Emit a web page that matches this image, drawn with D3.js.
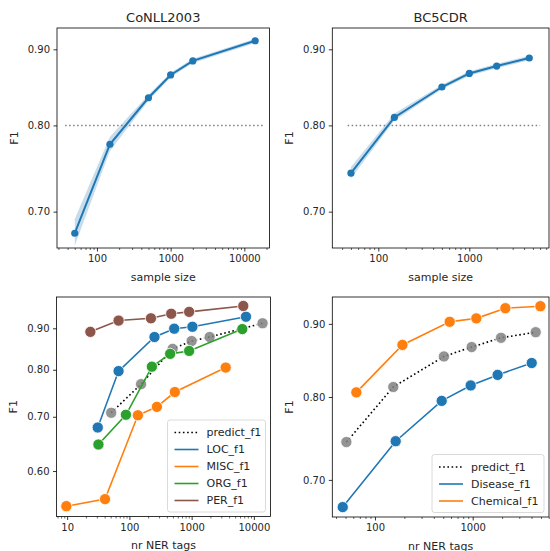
<!DOCTYPE html>
<html>
<head>
<meta charset="utf-8">
<script src="https://cdn.jsdelivr.net/npm/d3@7"></script>
<style>
    body { margin: 0; background: #fff; }
    text { font-family: "DejaVu Sans", sans-serif; fill: #262626; }
</style>
</head>
<body>
<div id="chart"></div>
<script>
// ---- data ----

// top row: F1 vs sample size
const conllSizes = [50, 150, 500, 1000, 2000, 14041];
const conllF1 = [0.677, 0.777, 0.835, 0.865, 0.884, 0.912];
const conllF1Low = [0.664, 0.769, 0.831, 0.862, 0.881, 0.909];
const conllF1High = [0.692, 0.786, 0.839, 0.868, 0.887, 0.915];

const bcSizes = [50, 150, 500, 1000, 2000, 4560];
const bcF1 = [0.743, 0.810, 0.849, 0.867, 0.877, 0.888];
const bcF1Low = [0.737, 0.806, 0.846, 0.864, 0.874, 0.885];
const bcF1High = [0.750, 0.815, 0.852, 0.870, 0.880, 0.891];

const refF1 = 0.80;
const conllRefRange = [37, 18000];
const bcRefRange = [46, 6000];

// bottom row: F1 per entity type vs nr NER tags
const conllPredictTags = [51, 154, 495, 1000, 1950, 13800];
const conllPredictF1 = [0.708, 0.768, 0.849, 0.868, 0.878, 0.913];
const locTags = [31, 67, 253, 525, 1030, 7470];
const locF1 = [0.679, 0.797, 0.878, 0.899, 0.904, 0.930];
const miscTags = [9.7, 40.6, 137, 277, 538, 3530];
const miscF1 = [0.543, 0.554, 0.703, 0.720, 0.751, 0.805];
const orgTags = [31.8, 88, 230, 452, 912, 6520];
const orgF1 = [0.647, 0.704, 0.807, 0.837, 0.844, 0.898];
const perTags = [23.6, 67, 222, 470, 912, 6760];
const perF1 = [0.891, 0.920, 0.926, 0.938, 0.943, 0.959];

const bcPredictTags = [51, 154, 508, 977, 1950, 4415];
const bcPredictF1 = [0.744, 0.813, 0.854, 0.867, 0.880, 0.888];
const diseaseTags = [46.8, 163, 482, 954, 1800, 4020];
const diseaseF1 = [0.670, 0.745, 0.795, 0.815, 0.829, 0.845];
const chemicalTags = [64.5, 191, 582, 1090, 2160, 4930];
const chemicalF1 = [0.806, 0.870, 0.903, 0.908, 0.923, 0.926];

const yTickValues = [0.60, 0.70, 0.80, 0.90];
const xTickValues = [10, 100, 1000, 10000];

const zip = (xs, ys) => xs.map((x, i) => ({ x, y: ys[i] }));

const svg = d3.select("#chart")
    .append("svg")
    .attr("width", 550)
    .attr("height", 551);

// draws one set of axes, returns scales + group
const drawAxes = (box, xDomain, yDomain, title, xLabel) => {
    const x = d3.scaleLog().domain(xDomain).range([box.left, box.right]);
    const y = d3.scaleLog().domain(yDomain).range([box.bottom, box.top]);
    const g = svg.append("g");

    // minor x ticks
    const minor = [];
    for (let e = -1; e < 6; e++) {
        for (let m = 2; m < 10; m++) {
            const v = m * Math.pow(10, e);
            if (v > xDomain[0] && v < xDomain[1]) minor.push(v);
        }
    }
    g.append("g")
        .attr("transform", `translate(0,${box.bottom})`)
        .call(d3.axisBottom(x).tickValues(minor).tickSize(2).tickFormat(""))
        .call(a => a.select(".domain").remove())
        .call(a => a.selectAll("line").attr("stroke", "#000").attr("stroke-width", 0.6));

    // X-axis
    g.append("g")
        .attr("transform", `translate(0,${box.bottom})`)
        .call(d3.axisBottom(x)
            .tickValues(xTickValues.filter(v => v > xDomain[0] && v < xDomain[1]))
            .tickSize(3.5).tickPadding(3.5).tickFormat(d3.format("d")))
        .call(a => a.select(".domain").remove())
        .call(a => a.selectAll("line").attr("stroke", "#000").attr("stroke-width", 0.8))
        .call(a => a.selectAll("text").attr("font-size", 10).attr("font-family", "DejaVu Sans").attr("fill", "#262626"));

    // Y-axis
    g.append("g")
        .attr("transform", `translate(${box.left},0)`)
        .call(d3.axisLeft(y)
            .tickValues(yTickValues.filter(v => v > yDomain[0] && v < yDomain[1]))
            .tickSize(3.5).tickPadding(3.5).tickFormat(d3.format(".2f")))
        .call(a => a.select(".domain").remove())
        .call(a => a.selectAll("line").attr("stroke", "#000").attr("stroke-width", 0.8))
        .call(a => a.selectAll("text").attr("font-size", 10).attr("font-family", "DejaVu Sans").attr("fill", "#262626"));

    // spines
    g.append("rect")
        .attr("x", box.left).attr("y", box.top)
        .attr("width", box.right - box.left).attr("height", box.bottom - box.top)
        .attr("fill", "none").attr("stroke", "#000").attr("stroke-width", 0.8);

    if (title) {
        g.append("text")
            .attr("x", (box.left + box.right) / 2).attr("y", box.top - 6.5)
            .attr("text-anchor", "middle").attr("font-size", 13)
            .text(title);
    }
    g.append("text")
        .attr("x", (box.left + box.right) / 2).attr("y", box.bottom + 32.5)
        .attr("text-anchor", "middle").attr("font-size", 11)
        .text(xLabel);
    g.append("text")
        .attr("transform", `translate(${box.left - 39.5},${(box.top + box.bottom) / 2}) rotate(-90)`)
        .attr("text-anchor", "middle").attr("font-size", 11)
        .text("F1");

    return { x, y, g };
};

// top panel: mean line with band + reference line
const drawTop = (ax, sizes, f1, lo, hi, refRange) => {
    const { x, y, g } = ax;
    const area = d3.area().x(d => x(d.x)).y0(d => y(d.lo)).y1(d => y(d.hi));
    g.append("path")
        .datum(sizes.map((s, i) => ({ x: s, lo: lo[i], hi: hi[i] })))
        .attr("d", area)
        .attr("fill", "#1f77b4").attr("fill-opacity", 0.25);

    g.append("line")
        .attr("x1", x(refRange[0])).attr("x2", x(refRange[1]))
        .attr("y1", y(refF1)).attr("y2", y(refF1))
        .attr("stroke", "#808080").attr("stroke-width", 1.5)
        .attr("stroke-dasharray", "1.5,2.5");

    const line = d3.line().x(d => x(d.x)).y(d => y(d.y));
    g.append("path")
        .datum(zip(sizes, f1))
        .attr("d", line)
        .attr("fill", "none").attr("stroke", "#1f77b4").attr("stroke-width", 2);

    g.selectAll(".pt")
        .data(zip(sizes, f1))
        .enter().append("circle")
        .attr("cx", d => x(d.x)).attr("cy", d => y(d.y)).attr("r", 3.6)
        .attr("fill", "#1f77b4");
};

// bottom panel: one line + markers per series
const drawSeries = (ax, xs, ys, color, dotted, markerColor) => {
    const { x, y, g } = ax;
    const line = d3.line().x(d => x(d.x)).y(d => y(d.y));
    g.append("path")
        .datum(zip(xs, ys))
        .attr("d", line)
        .attr("fill", "none").attr("stroke", color).attr("stroke-width", 1.6)
        .attr("stroke-dasharray", dotted ? "1.6,2.6" : null);
    g.append("g").selectAll("circle")
        .data(zip(xs, ys))
        .enter().append("circle")
        .attr("cx", d => x(d.x)).attr("cy", d => y(d.y)).attr("r", 5.6)
        .attr("fill", markerColor || color)
        .attr("fill-opacity", markerColor ? 0.85 : 1)
        .attr("stroke", "#fff").attr("stroke-width", 0.8);
};

const drawLegend = (box, entries) => {
    const step = 17;
    const right = box.right - 5;
    const lastRow = box.bottom - 16;
    const firstRow = lastRow - step * (entries.length - 1);
    const width = entries.width;
    const lg = svg.append("g");
    lg.append("rect")
        .attr("x", right - width).attr("y", firstRow - 12.5)
        .attr("width", width).attr("height", lastRow - firstRow + 24)
        .attr("rx", 2.5)
        .attr("fill", "#fff").attr("fill-opacity", 0.8)
        .attr("stroke", "#d0d0d0").attr("stroke-width", 0.8);
    entries.forEach((e, i) => {
        const yy = firstRow + i * step;
        const x0 = right - width + 7;
        lg.append("line")
            .attr("x1", x0).attr("x2", x0 + 24)
            .attr("y1", yy).attr("y2", yy)
            .attr("stroke", e.color).attr("stroke-width", 1.6)
            .attr("stroke-dasharray", e.dotted ? "1.6,2.6" : null);
        lg.append("text")
            .attr("x", x0 + 32).attr("y", yy).attr("dy", "0.35em")
            .attr("font-size", 11)
            .text(e.label);
    });
};

// ---- panels ----
const boxTL = { left: 57, right: 269.5, top: 28, bottom: 248 };
const boxTR = { left: 332.3, right: 549, top: 28, bottom: 248 };
const boxBL = { left: 56.5, right: 270.5, top: 297, bottom: 516.5 };
const boxBR = { left: 332.3, right: 549, top: 297, bottom: 517 };

const axTL = drawAxes(boxTL, [28.7, 21960], [0.6617, 0.9302], "CoNLL2003", "sample size");
drawTop(axTL, conllSizes, conllF1, conllF1Low, conllF1High, conllRefRange);

const axTR = drawAxes(boxTR, [31.2, 7516], [0.6617, 0.9302], "BC5CDR", "sample size");
drawTop(axTR, bcSizes, bcF1, bcF1Low, bcF1High, bcRefRange);

const axBL = drawAxes(boxBL, [6.74, 18510], [0.5273, 0.9837], null, "nr NER tags");
drawSeries(axBL, conllPredictTags, conllPredictF1, "#000", true, "#808080");
drawSeries(axBL, locTags, locF1, "#1f77b4");
drawSeries(axBL, miscTags, miscF1, "#ff7f0e");
drawSeries(axBL, orgTags, orgF1, "#2ca02c");
drawSeries(axBL, perTags, perF1, "#8c564b");
const legendBL = [
    { label: "predict_f1", color: "#000", dotted: true },
    { label: "LOC_f1", color: "#1f77b4" },
    { label: "MISC_f1", color: "#ff7f0e" },
    { label: "ORG_f1", color: "#2ca02c" },
    { label: "PER_f1", color: "#8c564b" }
];
legendBL.width = 98;
drawLegend(boxBL, legendBL);

const axBR = drawAxes(boxBR, [36.6, 6040], [0.6594, 0.9398], null, "nr NER tags");
drawSeries(axBR, bcPredictTags, bcPredictF1, "#000", true, "#808080");
drawSeries(axBR, diseaseTags, diseaseF1, "#1f77b4");
drawSeries(axBR, chemicalTags, chemicalF1, "#ff7f0e");
const legendBR = [
    { label: "predict_f1", color: "#000", dotted: true },
    { label: "Disease_f1", color: "#1f77b4" },
    { label: "Chemical_f1", color: "#ff7f0e" }
];
legendBR.width = 112;
drawLegend(boxBR, legendBR);
</script>
</body>
</html>
